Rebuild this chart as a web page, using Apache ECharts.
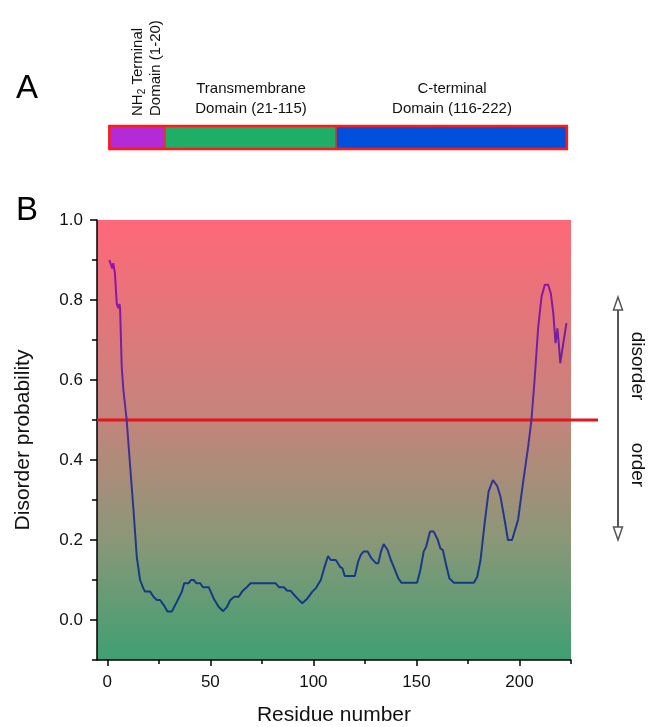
<!DOCTYPE html>
<html>
<head>
<meta charset="utf-8">
<script src="https://cdn.jsdelivr.net/npm/echarts@6/dist/echarts.min.js"></script>
<style>html,body{margin:0;padding:0;background:#fff}#c{width:655px;height:727px}</style>
</head>
<body>
<div id="c"></div>
<script>
// ---- data ----
const residues = [1,1.8,2.4,2.9,3.7,4.6,5.4,5.9,6.2,7.0,7.8,9.4,11.0,12.7,14.3,15.9,17.5,18.3,20.8,22.4,24,25.6,27.3,29.2,31.3,33.8,36.2,37.3,39.5,40.6,41.9,43.2,45.1,46.4,49.2,51.6,54.0,56.2,58.1,59.7,61.6,63.8,65.4,67.9,69.5,81.6,83.3,85.7,87.3,89.0,90.6,92.2,94.6,97.1,99.5,101.1,103.6,105.2,107.1,108.4,110.9,112.9,114.1,115.2,120.1,121.7,123.0,124.3,126.3,128.2,130.3,131.5,132.8,134.1,136.0,137.6,139.3,141.2,142.8,150.3,151.9,153.5,154.7,156.6,158.4,160.4,161.6,162.8,164.4,166.0,168.2,177.9,179.5,181.1,183.1,185.0,187.1,189.2,190.8,192.8,194.4,196.4,199.3,201.7,204.2,205.8,207.4,209.1,210.7,212.3,213.9,215.2,216.4,217.5,218.4,219.1,219.8,221.2,222.8];
const disorder = [0.90,0.888,0.879,0.892,0.867,0.79,0.78,0.79,0.78,0.633,0.575,0.50,0.39,0.275,0.158,0.10,0.079,0.071,0.071,0.058,0.05,0.05,0.038,0.021,0.021,0.046,0.071,0.092,0.092,0.10,0.10,0.092,0.092,0.082,0.082,0.054,0.033,0.022,0.033,0.05,0.058,0.058,0.071,0.083,0.092,0.092,0.082,0.082,0.073,0.073,0.063,0.054,0.042,0.054,0.071,0.079,0.10,0.129,0.16,0.15,0.15,0.133,0.129,0.11,0.11,0.146,0.163,0.171,0.171,0.154,0.142,0.142,0.171,0.19,0.175,0.15,0.129,0.104,0.093,0.093,0.125,0.171,0.183,0.221,0.221,0.20,0.179,0.175,0.138,0.104,0.093,0.093,0.108,0.15,0.242,0.321,0.35,0.335,0.308,0.25,0.20,0.20,0.25,0.342,0.433,0.50,0.605,0.733,0.808,0.838,0.838,0.817,0.767,0.692,0.729,0.69,0.642,0.69,0.742];
const threshold = 0.5;
const xMajorTicks = [0,50,100,150,200];
const xMinorTicks = [25,75,125,175,225];
const yMajorTicks = [0,0.2,0.4,0.6,0.8,1.0];
const yMinorTicks = [-0.1,0.1,0.3,0.5,0.7,0.9];
const domainStart = [1,28,111];
const domainEnd = [28,111,223];
const domainColors = ['#b22bd6','#1fae66','#0050dc'];

const FONT = 'Arial, "Liberation Sans", sans-serif';
const chart = echarts.init(document.getElementById('c'), null, {renderer:'canvas'});

const lineData = residues.map((r,i)=>[r, disorder[i]]);
const domainData = domainStart.map((s,i)=>[s, domainEnd[i], i]);

const option = {
  animation:false,
  backgroundColor:'#fff',
  grid:[
    {left:97, top:220, width:474, height:440, show:true, borderWidth:0, outerBoundsMode:'none', containLabel:false,
     backgroundColor:new echarts.graphic.LinearGradient(0,0,0,1,[
       {offset:0,color:'#ff6878'},{offset:0.45,color:'#c4847c'},{offset:0.72,color:'#8c9777'},{offset:1,color:'#3f9f73'}])},
    {left:97, top:220, width:501, height:440, outerBoundsMode:'none'},
    {left:97, top:126, width:474, height:23, outerBoundsMode:'none'}
  ],
  xAxis:[
    {gridIndex:0, type:'value', min:-5, max:225, position:'bottom',
     axisLine:{show:true, onZero:false, lineStyle:{color:'#000', width:1.5}},
     axisTick:{show:true, customValues:xMajorTicks, length:6, lineStyle:{color:'#000', width:1.5}},
     axisLabel:{customValues:xMajorTicks, fontSize:17, color:'#111', fontFamily:FONT, margin:14},
     splitLine:{show:false},
     name:'Residue number', nameLocation:'middle', nameGap:45,
     nameTextStyle:{fontSize:21, color:'#111', fontFamily:FONT}},
    {gridIndex:0, type:'value', min:-5, max:225, position:'bottom',
     axisLine:{show:false, onZero:false},
     axisTick:{show:true, customValues:xMinorTicks, length:4, lineStyle:{color:'#000', width:1.5}},
     axisLabel:{show:false}, splitLine:{show:false}},
    {gridIndex:1, type:'value', min:0, max:1, show:false},
    {gridIndex:2, type:'value', min:-5, max:225, show:false}
  ],
  yAxis:[
    {gridIndex:0, type:'value', min:-0.1, max:1.0, position:'left',
     axisLine:{show:true, onZero:false, lineStyle:{color:'#000', width:1.5}},
     axisTick:{show:true, customValues:yMajorTicks, length:7, lineStyle:{color:'#000', width:1.5}},
     axisLabel:{customValues:yMajorTicks, formatter:v=>v.toFixed(1), fontSize:17, color:'#111', fontFamily:FONT, margin:14},
     splitLine:{show:false},
     name:'Disorder probability', nameLocation:'middle', nameGap:63,
     nameTextStyle:{fontSize:21, color:'#111', fontFamily:FONT}},
    {gridIndex:0, type:'value', min:-0.1, max:1.0, position:'left',
     axisLine:{show:false, onZero:false},
     axisTick:{show:true, customValues:yMinorTicks, length:5, lineStyle:{color:'#000', width:1.5}},
     axisLabel:{show:false}, splitLine:{show:false}},
    {gridIndex:1, type:'value', min:-0.1, max:1.0, show:false},
    {gridIndex:2, type:'value', min:0, max:1, show:false}
  ],
  series:[
    {type:'line', xAxisIndex:2, yAxisIndex:2, data:[[0,threshold],[1,threshold]],
     showSymbol:false, lineStyle:{color:'#e3161c', width:3}, z:2, silent:true},
    {type:'line', xAxisIndex:0, yAxisIndex:0, data:lineData, showSymbol:false, smooth:false,
     lineStyle:{width:2, color:new echarts.graphic.LinearGradient(0,0,0,1,[
       {offset:0,color:'#9a10a8'},{offset:0.4,color:'#5a2a9c'},{offset:0.65,color:'#2a3590'},{offset:1,color:'#0c3c80'}])},
     z:3, silent:true},
    {type:'custom', xAxisIndex:3, yAxisIndex:3, data:domainData, silent:true,
     renderItem:(params, api)=>{
       const a = api.coord([api.value(0), 1]);
       const b = api.coord([api.value(1), 0]);
       return {type:'rect', shape:{x:a[0], y:a[1], width:b[0]-a[0], height:b[1]-a[1]},
               style:{fill:domainColors[api.value(2)], stroke:'#e8302a', lineWidth:1.5}};
     }},
    {type:'custom', xAxisIndex:3, yAxisIndex:3, data:[[domainStart[0], domainEnd[domainEnd.length-1]]], silent:true, z:5,
     renderItem:(params, api)=>{
       const a = api.coord([api.value(0), 1]);
       const b = api.coord([api.value(1), 0]);
       return {type:'rect', shape:{x:a[0], y:a[1], width:b[0]-a[0], height:b[1]-a[1]},
               style:{fill:null, stroke:'#ff1a1a', lineWidth:2.5}};
     }}
  ],
  graphic:[
    {type:'text', left:16, top:72, style:{text:'A', font:'33px '+FONT, fill:'#000'}},
    {type:'text', left:16, top:194, style:{text:'B', font:'33px '+FONT, fill:'#000'}},
    {type:'text', x:251, y:99, style:{text:'Transmembrane\nDomain (21-115)', font:'15px '+FONT, fill:'#111', align:'center', verticalAlign:'middle', lineHeight:20}},
    {type:'text', x:452, y:99, style:{text:'C-terminal\nDomain (116-222)', font:'15px '+FONT, fill:'#111', align:'center', verticalAlign:'middle', lineHeight:20}},
    {type:'text', x:147, y:116, rotation:Math.PI/2,
     style:{text:'{a|NH}{s|2}{a| Terminal}\n{a|Domain (1-20)}', align:'left', verticalAlign:'middle',
            rich:{a:{font:'15px '+FONT, fill:'#111', lineHeight:18}, s:{font:'10px '+FONT, fill:'#111', padding:[8,0,0,0], lineHeight:18}}}},
    {type:'polyline', shape:{points:[[618,300],[618,538]]}, style:{stroke:'#555', lineWidth:2}},
    {type:'polygon', shape:{points:[[618,297],[613.5,310],[622.5,310]]}, style:{fill:'#fff', stroke:'#555', lineWidth:1.5}},
    {type:'polygon', shape:{points:[[618,540],[613.5,527],[622.5,527]]}, style:{fill:'#fff', stroke:'#555', lineWidth:1.5}},
    {type:'text', x:637, y:366, rotation:-Math.PI/2, style:{text:'disorder', font:'19px '+FONT, fill:'#111', align:'center', verticalAlign:'middle'}},
    {type:'text', x:637, y:465, rotation:-Math.PI/2, style:{text:'order', font:'19px '+FONT, fill:'#111', align:'center', verticalAlign:'middle'}}
  ]
};
chart.setOption(option);
</script>
</body>
</html>
